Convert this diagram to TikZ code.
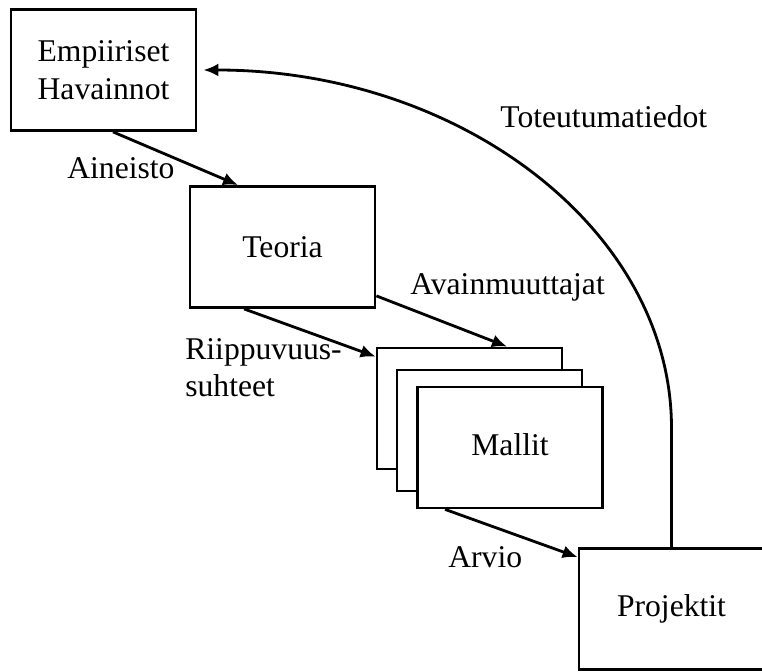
\documentclass[tikz,border=0pt]{standalone}
\usepackage{fontspec}
\setmainfont{Liberation Serif}
\usepackage{tikz}
\usetikzlibrary{arrows.meta}

\tikzset{
	box/.style={draw, rectangle, fill=white, line width=1.6pt, minimum width=3.7cm, minimum height=2.42cm, align=center},
	arr/.style={-{Latex[length=3mm,width=2.6mm]}, line width=1.6pt},
	lbl/.style={anchor=base west, inner sep=0pt}
}

\begin{document}
\begin{tikzpicture}[font=\fontsize{18}{21.5}\selectfont]
	\useasboundingbox (0,0) rectangle (15.24,13.42);
	\node (emp) [box] at (2.07, 12.02) {Empiiriset\\Havainnot};
	\node (teoria) [box] at (5.65, 8.48) {Teoria};
	\node (mback) [box] at (9.39, 5.25) {};
	\node (mmid) [box] at (9.79, 4.81) {};
	\node (mallit) [box] at (10.2, 4.47) {\raisebox{0.12cm}{Mallit}};
	\node (proj) [box] at (13.43, 1.24) {Projektit};

	\draw[arr] ([xshift=0.19cm]emp.south) -- ([xshift=-0.89cm]teoria.north);
	\draw[arr] ([xshift=-0.77cm]teoria.south) -- ([yshift=-0.2cm]mback.north west);
	\draw[arr] ([yshift=0.26cm]teoria.south east) -- ([xshift=0.75cm]mback.north);
	\draw[arr] ([xshift=0.58cm]mallit.south west) -- ([yshift=-0.2cm]proj.north west);
	\draw[arr, shorten >=0.12cm] (proj.north) -- ++(0,2.38) .. controls +(0,3.98) and +(5.24,0) .. (emp.east);

	\node (l_aineisto) [lbl] at (1.34, 9.84) {Aineisto};
	\node (l_toteutuma) [lbl] at (10.0, 10.86) {Toteutumatiedot};
	\node (l_avain) [lbl] at (8.2, 7.52) {Avainmuuttajat};
	\node (l_riippu) [lbl, align=left] at (3.7, 5.48) {Riippuvuus-\\suhteet};
	\node (l_arvio) [lbl] at (8.96, 2.08) {Arvio};
\end{tikzpicture}
\end{document}
